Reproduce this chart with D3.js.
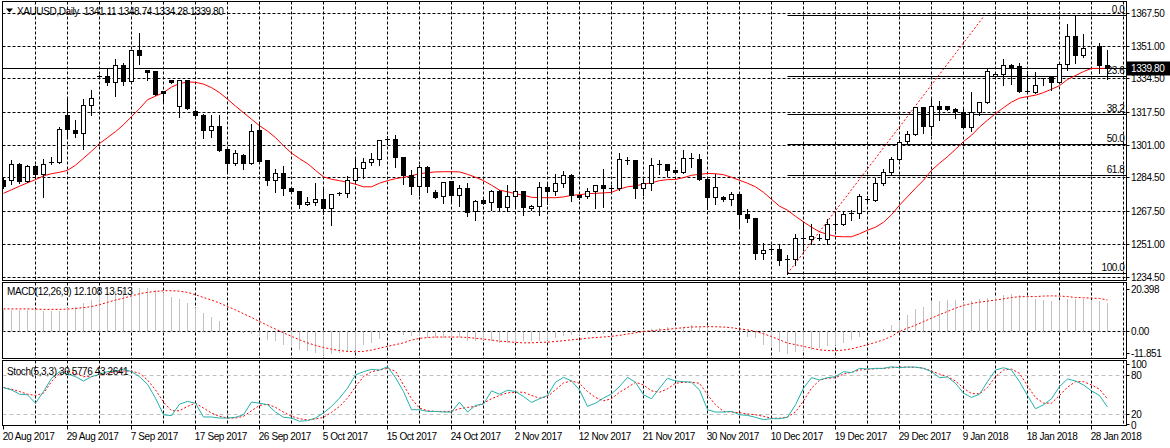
<!DOCTYPE html>
<html><head><meta charset="utf-8">
<script src="https://cdn.jsdelivr.net/npm/d3@7"></script>
<style>
html,body{margin:0;padding:0;background:#fff;}
svg{display:block;}
text{font-family:"Liberation Sans",Arial,sans-serif;font-size:10px;letter-spacing:-0.4px;fill:#000;white-space:pre;}
</style></head><body>
<svg id="c" width="1170" height="448"></svg>
<script>
// ---------------- DATA ----------------
const symbolTitle = "XAUUSD,Daily";
const lastOHLC = [1341.11, 1348.74, 1334.28, 1339.80];
const dateLabels = ["20 Aug 2017","29 Aug 2017","7 Sep 2017","17 Sep 2017","26 Sep 2017","5 Oct 2017","15 Oct 2017","24 Oct 2017","2 Nov 2017","12 Nov 2017","21 Nov 2017","30 Nov 2017","10 Dec 2017","19 Dec 2017","29 Dec 2017","9 Jan 2018","18 Jan 2018","28 Jan 2018"];
const labelEvery = 8;   // bars between date labels
const gridEvery = 4;    // bars between vertical grid lines
const priceTicks = [1367.50,1351.00,1334.50,1317.50,1301.00,1284.50,1267.50,1251.00,1234.50];
const macdTicks = [20.398, 0.00, -11.851];
const stochTicks = [100, 80, 20, 0];
const stochLevels = [80, 20];

const opens = [
1283.3,1283.3,1291.2,1282.8,1290.4,1286.2,1292.2,1292.2,1315.8,1308.6,
1306.9,1320.8,1335.5,1335.8,1332.6,1341.2,1333.3,1348.6,1338.9,1338.0,
1328.0,1333.7,1320.3,1333.7,1318.1,1316.1,1308.6,1310.6,1299.0,1291.7,
1295.9,1291.7,1308.6,1293.4,1283.3,1286.7,1279.1,1277.7,1271.2,1272.0,
1273.6,1269.0,1276.6,1276.6,1283.3,1289.2,1292.2,1293.8,1303.9,1303.9,
1294.8,1285.5,1279.9,1289.7,1277.2,1274.9,1282.5,1275.4,1279.1,1267.3,
1273.2,1272.0,1277.4,1269.5,1274.9,1277.7,1269.3,1270.3,1279.6,1277.4,
1281.6,1285.8,1275.4,1274.9,1277.4,1280.8,1279.1,1278.9,1293.3,1293.3,
1278.9,1281.6,1291.2,1291.2,1288.3,1287.2,1294.3,1293.8,1283.7,1274.4,
1274.4,1273.7,1276.2,1266.0,1264.0,1246.6,1248.3,1248.3,1243.3,1243.3,
1253.9,1253.4,1253.9,1253.4,1261.1,1261.1,1266.5,1266.5,1273.6,1272.9,
1281.6,1287.0,1293.8,1302.6,1306.4,1320.0,1310.6,1320.3,1320.7,1319.2,
1317.5,1309.7,1317.3,1322.5,1335.5,1336.7,1341.4,1340.5,1328.2,1327.6,
1334.7,1335.0,1332.6,1341.9,1356.0,1346.1,null,1350.6,1341.11];
const highs = [
1284.3,1293.4,1291.9,1290.9,1290.9,1294.2,1294.8,1310.2,1325.4,1313.6,
1324.1,1328.8,1336.3,1339.4,1344.3,1342.5,1348.9,1357.7,1339.1,1338.5,
1328.3,1334.1,1334.1,1333.8,1318.6,1316.6,1316.1,1316.1,1299.5,1298.5,
1296.4,1311.9,1312.7,1293.7,1288.9,1290.4,1279.5,1278.0,1274.9,1282.1,
1279.1,1276.5,1277.4,1285.3,1294.3,1294.3,1297.1,1303.8,1305.5,1306.0,
1295.2,1288.3,1291.2,1290.4,1278.2,1282.5,1283.0,1280.8,1282.1,1273.2,
1273.7,1278.2,1278.2,1280.8,1285.0,1278.0,1270.7,1282.5,1281.9,1286.7,
1288.0,1286.7,1275.7,1279.4,1281.0,1289.2,1280.8,1296.8,1295.1,1293.7,
1285.0,1294.3,1293.4,1291.6,1288.6,1298.8,1297.1,1296.4,1284.1,1286.7,
1275.2,1277.4,1276.5,1268.7,1264.1,1251.8,1250.8,1250.5,1245.4,1256.4,
1261.1,1261.4,1256.4,1264.0,1267.3,1267.6,1268.5,1276.2,1275.2,1284.2,
1289.2,1295.1,1303.5,1308.1,1320.3,1320.2,1325.4,1323.2,1320.9,1319.7,
1320.3,1327.9,1322.9,1339.2,1337.1,1344.3,1341.9,1342.2,1338.4,1338.0,
1335.0,1335.3,1343.1,1362.1,1366.3,1357.0,null,1352.3,1348.74];
const lows = [
1279.3,1281.6,1281.9,1282.3,1285.0,1274.9,1291.7,1291.9,1304.4,1304.9,
1298.9,1316.1,1334.7,1331.3,1325.9,1331.3,1333.1,1341.9,1333.8,1326.5,
1322.6,1332.3,1315.3,1319.3,1315.3,1304.4,1304.9,1298.0,1287.0,1290.9,
1289.2,1291.4,1292.6,1280.8,1277.4,1275.7,1277.0,1269.5,1270.7,1270.7,
1266.5,1260.6,1275.7,1274.9,1283.0,1284.2,1290.9,1290.9,1301.8,1290.0,
1281.6,1276.6,1275.7,1277.4,1274.1,1271.9,1272.3,1270.2,1265.1,1263.5,
1271.4,1268.1,1267.6,1267.6,1270.2,1265.6,1268.1,1266.0,1271.5,1275.7,
1279.9,1272.9,1274.0,1274.5,1269.5,1269.8,1277.4,1278.5,1291.7,1274.1,
1275.7,1278.6,1286.7,1285.3,1286.9,1286.9,1290.0,1283.3,1269.0,1271.5,
1272.9,1270.7,1260.1,1262.2,1243.8,1243.8,1246.3,1240.4,1236.2,1240.4,
1247.9,1251.3,1253.0,1251.3,1258.1,1260.6,1263.5,1264.5,1272.3,1272.7,
1280.8,1286.7,1293.4,1301.5,1306.0,1306.9,1306.0,1313.6,1318.7,1314.5,
1309.5,1308.2,1316.1,1322.3,1335.1,1331.3,1331.6,1327.6,1327.4,1327.4,
1331.3,1328.8,1332.4,1338.9,1342.2,1345.4,null,1337.2,1334.28];
const closes = [
1280.3,1291.2,1282.9,1290.4,1286.2,1291.2,1292.1,1309.1,1308.9,1306.9,
1320.8,1324.6,1335.4,1332.5,1341.2,1332.9,1348.6,1346.1,1337.7,1326.7,
1327.2,1332.7,1333.8,1319.5,1315.8,1308.2,1310.6,1298.5,1291.7,1296.8,
1291.7,1308.1,1293.0,1283.3,1286.7,1279.1,1277.4,1271.0,1272.3,1273.6,
1269.0,1276.1,1276.5,1283.3,1289.2,1292.2,1293.8,1303.5,1303.8,1294.8,
1285.5,1279.9,1289.7,1279.9,1274.4,1282.1,1275.4,1279.1,1266.8,1272.8,
1271.8,1277.4,1269.5,1274.9,1277.7,1269.8,1270.3,1279.6,1277.4,1281.6,
1285.8,1275.4,1274.4,1277.4,1280.8,1278.9,1279.0,1293.8,1293.2,1278.9,
1281.6,1290.9,1291.1,1288.0,1287.2,1294.3,1294.2,1283.7,1274.4,1279.6,
1273.7,1276.2,1266.0,1264.0,1246.6,1248.0,1248.2,1242.6,1243.2,1253.9,
1253.8,1255.0,1253.8,1260.9,1261.0,1266.0,1266.7,1275.2,1273.5,1281.6,
1287.0,1293.8,1302.3,1306.4,1320.0,1310.6,1320.3,1319.2,1319.0,1317.8,
1309.7,1317.3,1322.5,1338.0,1336.7,1341.4,1340.2,1327.9,1328.1,1331.3,
1334.6,1332.6,1341.9,1356.0,1346.1,1349.8,null,1341.0,1339.80];

const movingAvg = [
1276.7,1278.5,1280.3,1282.0,1283.6,1285.5,1286.6,1287.3,1288.3,1290.9,
1294.4,1297.9,1301.8,1304.8,1307.8,1311.3,1315.4,1319.4,1323.9,1325.7,
1327.5,1330.3,1332.0,1332.9,1332.7,1331.8,1330.0,1327.5,1324.2,1320.7,
1317.4,1314.1,1310.8,1308.1,1304.8,1300.7,1297.0,1294.2,1291.7,1288.3,
1285.0,1283.8,1283.1,1282.3,1281.3,1280.0,1280.0,1281.8,1283.1,1284.1,
1284.8,1285.6,1286.6,1287.1,1287.5,1287.6,1287.6,1287.5,1286.3,1284.8,
1283.1,1280.8,1278.3,1277.5,1276.5,1275.7,1274.7,1274.5,1274.5,1274.5,
1274.9,1275.7,1276.0,1276.5,1276.7,1276.9,1277.2,1278.8,1280.0,1280.5,
1281.3,1282.0,1283.1,1283.6,1283.7,1284.6,1285.8,1286.3,1286.7,1286.6,
1286.1,1284.8,1283.3,1281.8,1280.0,1277.2,1273.7,1270.2,1268.2,1265.1,
1262.3,1259.6,1257.3,1256.0,1255.0,1254.8,1254.8,1256.3,1258.1,1259.6,
1262.1,1265.9,1270.7,1275.0,1279.3,1283.3,1288.3,1291.9,1295.2,1298.9,
1302.8,1306.0,1310.1,1313.6,1316.9,1319.9,1322.7,1324.7,1325.5,1326.2,
1327.5,1329.2,1331.0,1334.1,1336.1,1338.1,1339.7,1339.7,1339.7];

const macdMain = [
9.3,9.3,9.3,9.3,9.5,8.6,8.6,9.0,10.0,10.7,
12.2,13.6,15.5,16.5,17.5,18.0,18.5,18.6,18.6,17.9,
16.5,14.6,14.0,12.2,10.0,7.9,6.4,4.3,0.5,-0.2,
-0.7,-1.1,-2.1,-3.6,-4.3,-5.7,-6.4,-7.9,-8.6,-9.3,
-10.0,-9.8,-9.3,-8.9,-8.0,-6.0,-5.0,-3.2,-1.1,-0.7,
-1.4,-1.9,-2.1,-2.9,-2.9,-2.9,-2.9,-2.6,-4.3,-4.3,
-3.6,-4.3,-5.0,-5.0,-5.0,-4.3,-4.3,-4.3,-3.6,-2.9,
-2.1,-1.4,-1.4,-1.1,-1.1,-1.1,-0.7,-0.3,0.7,0.7,
1.1,1.1,1.4,1.7,2.1,2.1,2.6,2.1,1.4,0.7,
0.3,0.3,-0.3,-2.6,-2.9,-6.0,-7.0,-8.9,-9.6,-8.9,
-8.6,-7.9,-7.2,-6.4,-5.7,-5.0,-3.6,-2.4,-0.7,0.3,
1.1,2.9,5.0,6.9,9.6,10.6,12.9,13.3,13.6,13.6,
12.2,12.9,14.0,14.3,14.6,15.8,16.2,15.5,14.6,14.0,
13.6,12.9,13.6,14.0,14.0,13.9,13.6,13.2,12.108];
const macdSignal = [
9.7,9.7,9.7,9.7,9.6,9.5,9.5,9.5,9.6,9.9,
10.2,10.7,11.5,12.5,13.5,14.3,15.3,16.2,16.8,17.2,
17.5,17.5,17.3,16.8,15.8,14.6,13.5,12.2,10.7,9.3,
7.6,6.0,4.3,2.6,1.0,-0.6,-2.1,-3.6,-4.9,-6.0,
-6.9,-7.6,-8.2,-8.6,-8.7,-8.6,-8.0,-7.2,-6.4,-5.7,
-4.9,-3.7,-3.0,-2.6,-2.4,-2.4,-2.4,-2.4,-2.6,-2.9,
-3.3,-3.7,-4.2,-4.4,-4.7,-4.9,-4.9,-4.7,-4.6,-4.3,
-4.0,-3.6,-3.3,-2.9,-2.6,-2.4,-2.1,-1.7,-1.1,-0.6,
0.0,0.3,0.6,0.9,1.3,1.6,1.9,2.0,2.1,2.0,
1.9,1.6,1.1,0.7,0.0,-1.0,-2.2,-3.6,-5.0,-5.7,
-6.4,-7.2,-7.9,-8.2,-8.3,-8.0,-7.5,-6.6,-5.7,-4.7,
-3.6,-2.1,0.0,1.4,2.7,4.2,5.7,7.2,8.6,10.0,
11.2,12.0,12.6,13.0,13.5,14.0,14.6,14.9,15.0,15.0,
15.2,15.3,15.2,15.0,14.6,14.5,14.3,14.2,13.513];

const stochK = [
60.7,57.1,50.5,49.5,36.7,54.6,74.9,85.1,81.5,77.5,
70.8,77.5,81.0,85.1,86.1,88.7,85.1,77.5,65.7,44.4,
18.9,17.4,35.2,39.3,36.7,15.4,15.4,13.8,13.8,14.9,
18.9,38.3,36.7,34.2,23.0,14.9,13.8,8.8,9.8,13.8,
21.5,31.7,44.4,59.7,80.0,85.1,88.7,87.6,92.7,76.0,
54.6,26.6,26.6,24.0,24.0,23.0,23.0,38.3,23.0,33.2,
35.2,55.6,50.5,56.6,54.6,46.9,37.8,43.4,48.5,68.8,
76.4,70.8,57.1,31.7,36.7,44.4,51.0,62.2,76.4,68.8,
49.5,43.4,59.7,74.9,70.8,69.8,68.8,57.1,26.6,23.0,
23.0,24.0,18.9,17.9,14.9,11.3,12.8,12.8,14.9,34.2,
59.7,75.9,72.4,75.9,77.5,85.1,83.6,90.2,89.2,90.2,
90.2,92.7,91.2,92.2,92.2,90.2,85.1,75.9,76.9,67.3,
52.0,45.4,50.5,69.8,87.6,91.2,87.6,69.8,48.5,28.1,
34.2,43.4,62.2,73.9,70.8,64.7,55.6,48.5,30.5776];
const stochD = [
60.7,58.1,54.6,50.5,48.5,52.0,69.8,82.5,86.1,82.5,
77.5,77.5,80.0,82.5,85.1,86.1,86.1,82.5,72.4,57.1,
38.3,25.0,25.0,31.7,36.7,29.1,21.5,16.4,13.8,13.8,
16.4,25.0,33.2,35.2,30.1,23.0,16.4,12.8,10.8,12.3,
14.9,22.5,31.7,44.4,62.2,77.5,85.1,87.6,90.2,86.0,
64.7,43.4,29.1,25.0,24.0,24.0,24.0,28.1,30.1,31.7,
36.7,43.4,48.5,52.5,53.5,53.5,48.5,44.4,46.9,57.1,
67.8,70.8,67.3,54.6,45.4,40.3,43.4,53.5,60.7,68.8,
64.7,55.6,53.5,58.6,67.3,68.8,68.8,67.3,49.5,34.2,
24.0,23.0,22.0,20.0,18.9,16.4,13.5,13.5,15.4,23.0,
40.3,59.7,71.9,74.9,75.9,81.5,84.1,87.6,88.7,89.7,
90.2,91.2,92.2,92.2,91.7,90.7,86.1,81.5,77.5,70.8,
59.7,51.5,51.0,60.7,77.5,87.6,89.2,82.5,63.2,45.4,
36.7,36.7,48.5,61.2,69.8,69.8,64.7,58.1,43.2641];

// Fibonacci retracement drawn on the chart
const fibLevels = [0, 23.6, 38.2, 50, 61.8, 100];
const fibLabels = ["0.0","23.6","38.2","50.0","61.8","100.0"];
const fibLow = {bar: 98, price: 1236.2};
const fibHigh = {bar: 122.6, price: 1366.3};

// ---------------- LAYOUT ----------------
const W = 1170, H = 448;
const L = 2.5, R = 1126.5;
const P = {
  main:  {top: 1.5,   bottom: 280.5},
  macd:  {top: 282.5, bottom: 358.5},
  stoch: {top: 360.5, bottom: 425.5}
};
const n = closes.length;
const snap = v => Math.round(v - 0.5) + 0.5;
const f2 = d3.format(".2f");

const svg = d3.select("#c");
const x  = d3.scaleLinear().domain([0, n - 1]).range([3.5, 3.5 + 8 * (n - 1)]);
const yP = d3.scaleLinear().domain([1234.5, 1367.5]).range([277, 13.3]);
const yM = d3.scaleLinear().domain([-11.851, 20.398]).range([359, 284]);
const yS = d3.scaleLinear().domain([0, 100]).range([427, 362]);

// clip paths
const defs = svg.append("defs");
Object.entries(P).forEach(([k, p]) => {
  defs.append("clipPath").attr("id", "clip-" + k)
    .append("rect").attr("x", L).attr("y", p.top).attr("width", R - L).attr("height", p.bottom - p.top);
});

// vertical grid (all panels)
const gridBars = d3.range(gridEvery, n + 2, gridEvery);
Object.entries(P).forEach(([k, p]) => {
  const g = svg.append("g").attr("clip-path", `url(#clip-${k})`);
  g.selectAll("line").data(gridBars).join("line")
    .attr("x1", d => snap(x(d))).attr("x2", d => snap(x(d)))
    .attr("y1", p.top).attr("y2", p.bottom)
    .attr("stroke", "#000").attr("stroke-width", 1).attr("stroke-dasharray", "3,2");
});

// ---------------- MAIN PANEL ----------------
const gMain = svg.append("g").attr("clip-path", "url(#clip-main)");
gMain.selectAll("line.hgrid").data(priceTicks).join("line").attr("class", "hgrid")
  .attr("x1", L).attr("x2", R)
  .attr("y1", d => snap(yP(d))).attr("y2", d => snap(yP(d)))
  .attr("stroke", "#000").attr("stroke-dasharray", "3,2");

// Fibonacci
const fibRange = fibHigh.price - fibLow.price;
const fibData = fibLevels.map((lv, i) => ({lv, label: fibLabels[i], price: fibHigh.price - fibRange * lv / 100}));
gMain.selectAll("line.fib").data(fibData).join("line").attr("class", "fib")
  .attr("x1", snap(x(fibLow.bar))).attr("x2", R)
  .attr("y1", d => snap(yP(d.price))).attr("y2", d => snap(yP(d.price)))
  .attr("stroke", "#000");
gMain.append("line")
  .attr("x1", x(fibLow.bar)).attr("y1", yP(fibLow.price))
  .attr("x2", x(fibHigh.bar)).attr("y2", yP(fibHigh.price))
  .attr("stroke", "#ff0000").attr("stroke-dasharray", "2,2");

// current price line
gMain.append("line").attr("x1", L).attr("x2", R)
  .attr("y1", snap(yP(lastOHLC[3]))).attr("y2", snap(yP(lastOHLC[3])))
  .attr("stroke", "#000");

// moving average
gMain.append("path").datum(movingAvg)
  .attr("d", d3.line().x((d, i) => x(i)).y(d => yP(d)))
  .attr("fill", "none").attr("stroke", "#ff0000").attr("stroke-width", 1);

// candles
const bars = d3.range(n).filter(i => opens[i] != null);
const cg = gMain.append("g");
bars.forEach(i => {
  const cx = x(i);
  const yo = yP(opens[i]), yc = yP(closes[i]), yh = yP(highs[i]), yl = yP(lows[i]);
  cg.append("line").attr("x1", cx).attr("x2", cx)
    .attr("y1", Math.round(yh)).attr("y2", Math.round(yl) + 1)
    .attr("stroke", "#000");
  const t = snap(Math.min(yo, yc)), b = snap(Math.max(yo, yc));
  if (b - t < 1) {
    cg.append("line").attr("x1", cx - 2.5).attr("x2", cx + 2.5)
      .attr("y1", t).attr("y2", t).attr("stroke", "#000");
  } else {
    cg.append("rect").attr("x", cx - 2).attr("y", t).attr("width", 4).attr("height", b - t)
      .attr("fill", closes[i] >= opens[i] ? "#fff" : "#000").attr("stroke", "#000");
  }
});

// fib labels
svg.append("g").selectAll("text").data(fibData).join("text")
  .attr("x", R - 2).attr("y", d => snap(yP(d.price)) - 2.5)
  .attr("text-anchor", "end").text(d => d.label);

// title
svg.append("path").attr("d", "M6,8.5 L13,8.5 L9.5,12.5 Z").attr("fill", "#000");
svg.append("text").attr("x", 17).attr("y", 15)
  .text(symbolTitle + "\u00a0\u00a0" + lastOHLC.map(f2).join(" "));

// ---------------- MACD PANEL ----------------
const gMacd = svg.append("g").attr("clip-path", "url(#clip-macd)");
gMacd.append("line").attr("x1", L).attr("x2", R)
  .attr("y1", snap(yM(0))).attr("y2", snap(yM(0)))
  .attr("stroke", "#000").attr("stroke-dasharray", "3,2");
gMacd.selectAll("line.hist").data(macdMain.map((v, i) => ({v, i}))).join("line").attr("class", "hist")
  .attr("x1", d => x(d.i)).attr("x2", d => x(d.i))
  .attr("y1", snap(yM(0))).attr("y2", d => Math.round(yM(d.v)))
  .attr("stroke", "#c0c0c0").attr("stroke-width", 1);
gMacd.append("path").datum(macdSignal)
  .attr("d", d3.line().x((d, i) => x(i)).y(d => yM(d)))
  .attr("fill", "none").attr("stroke", "#ff0000").attr("stroke-dasharray", "2,2");
svg.append("text").attr("x", 7).attr("y", 295)
  .text(`MACD(12,26,9) ${macdMain[n - 1].toFixed(3)} ${macdSignal[n - 1].toFixed(3)}`);

// ---------------- STOCH PANEL ----------------
const gSto = svg.append("g").attr("clip-path", "url(#clip-stoch)");
gSto.selectAll("line.lvl").data(stochLevels).join("line").attr("class", "lvl")
  .attr("x1", L).attr("x2", R)
  .attr("y1", d => snap(yS(d))).attr("y2", d => snap(yS(d)))
  .attr("stroke", "#c0c0c0").attr("stroke-dasharray", "4,3");
gSto.append("path").datum(stochD)
  .attr("d", d3.line().x((d, i) => x(i)).y(d => yS(d)))
  .attr("fill", "none").attr("stroke", "#ff0000").attr("stroke-dasharray", "2,2");
gSto.append("path").datum(stochK)
  .attr("d", d3.line().x((d, i) => x(i)).y(d => yS(d)))
  .attr("fill", "none").attr("stroke", "#20b2aa").attr("stroke-width", 1);
svg.append("text").attr("x", 7).attr("y", 374.5)
  .text(`Stoch(5,3,3) ${stochK[n - 1].toFixed(4)} ${stochD[n - 1].toFixed(4)}`);

// ---------------- FRAMES ----------------
Object.values(P).forEach(p => {
  svg.append("rect").attr("x", L).attr("y", p.top).attr("width", R - L).attr("height", p.bottom - p.top)
    .attr("fill", "none").attr("stroke", "#000");
});

// ---------------- RIGHT AXES ----------------
const axisG = svg.append("g");
axisG.selectAll("line.pt").data(priceTicks).join("line").attr("class", "pt")
  .attr("x1", R).attr("x2", R + 3)
  .attr("y1", d => snap(yP(d))).attr("y2", d => snap(yP(d))).attr("stroke", "#000");
axisG.selectAll("text.pt").data(priceTicks).join("text").attr("class", "pt")
  .attr("x", 1131).attr("y", d => yP(d)).attr("dy", "0.35em").text(d => f2(d));

// last price box
axisG.append("rect").attr("x", 1127).attr("y", snap(yP(lastOHLC[3])) - 7)
  .attr("width", 43).attr("height", 14).attr("fill", "#000");
axisG.append("text").attr("x", 1131).attr("y", yP(lastOHLC[3])).attr("dy", "0.35em")
  .style("fill", "#fff").text(f2(lastOHLC[3]));

function clampY(y, p, topPad, botPad) { return Math.max(p.top + topPad, Math.min(p.bottom - botPad, y)); }
axisG.selectAll("text.mt").data(macdTicks).join("text").attr("class", "mt")
  .attr("x", 1131).attr("y", d => clampY(yM(d), P.macd, 6.5, 5)).attr("dy", "0.35em")
  .text(d => d === 0 ? "0.00" : String(d));
axisG.selectAll("line.mt").data(macdTicks).join("line").attr("class", "mt")
  .attr("x1", R).attr("x2", R + 3)
  .attr("y1", d => snap(clampY(yM(d), P.macd, 6.5, 5))).attr("y2", d => snap(clampY(yM(d), P.macd, 6.5, 5))).attr("stroke", "#000");
// stochastic scale labels: the extreme labels are pushed inside the window
axisG.selectAll("text.st").data(stochTicks).join("text").attr("class", "st")
  .attr("x", 1131).attr("y", d => clampY(yS(d), P.stoch, 4, 0.5)).attr("dy", "0.35em")
  .text(d => String(d));
axisG.selectAll("line.st").data(stochTicks).join("line").attr("class", "st")
  .attr("x1", R).attr("x2", R + 3)
  .attr("y1", d => snap(clampY(yS(d), P.stoch, 4, 1.5))).attr("y2", d => snap(clampY(yS(d), P.stoch, 4, 1.5))).attr("stroke", "#000");

// ---------------- X AXIS ----------------
const xl = dateLabels.map((t, k) => ({t, i: k * labelEvery}));
const xg = svg.append("g");
xg.selectAll("line").data(xl).join("line")
  .attr("x1", d => snap(x(d.i))).attr("x2", d => snap(x(d.i)))
  .attr("y1", P.stoch.bottom).attr("y2", P.stoch.bottom + 4).attr("stroke", "#000");
xg.selectAll("text").data(xl).join("text")
  .attr("x", d => x(d.i) - 0.8).attr("y", 440).text(d => d.t);
</script>
</body></html>
